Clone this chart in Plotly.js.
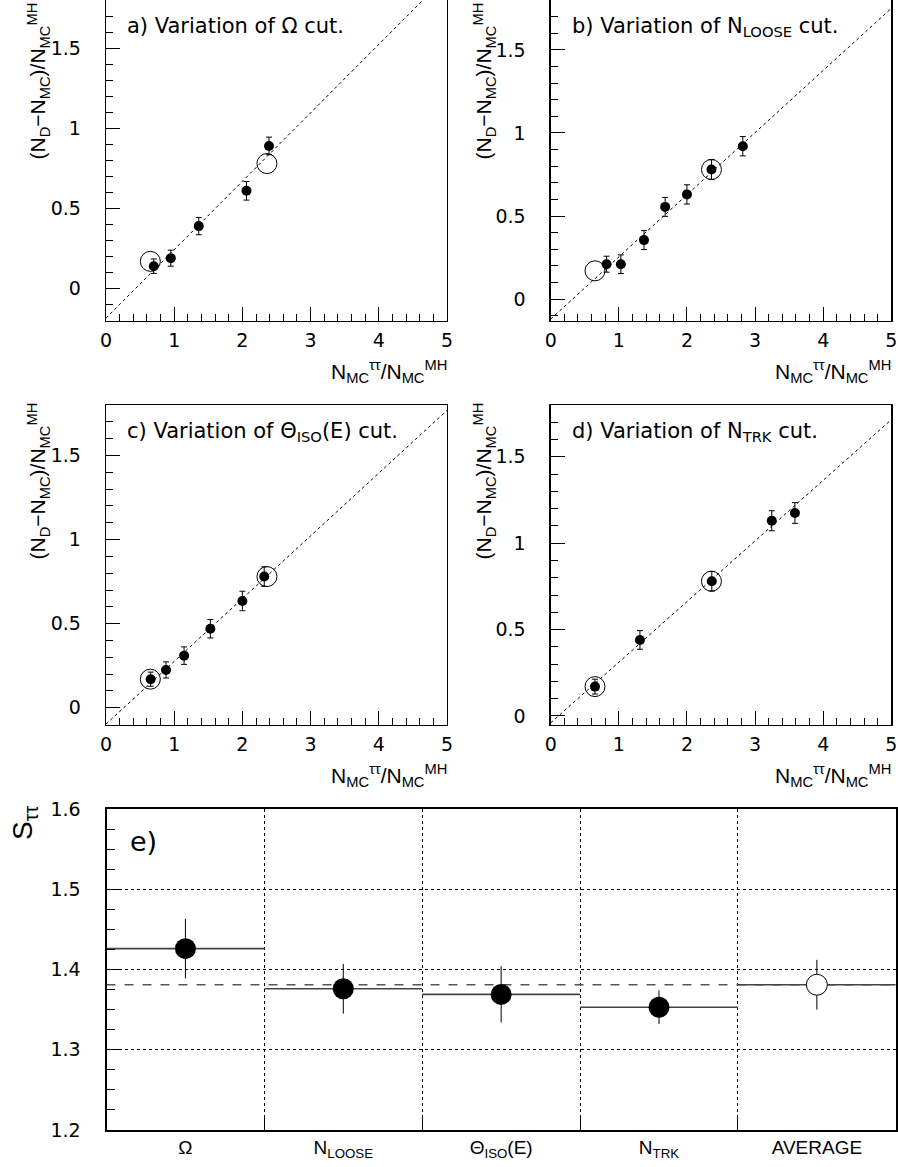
<!DOCTYPE html>
<html>
<head>
<meta charset="utf-8">
<script src="https://cdn.plot.ly/plotly-3.0.1.min.js"></script>
<style>html,body{margin:0;padding:0;background:#fff;}#plot{width:898px;height:1167px;}</style>
</head>
<body>
<div id="plot"></div>
<script>
// ---------- data ----------
// panel a) variation of Omega cut
const aX   = [0.70, 0.95, 1.36, 2.06, 2.39];
const aY   = [0.14, 0.19, 0.39, 0.61, 0.89];
const aErr = [0.045, 0.050, 0.054, 0.058, 0.055];
// panel b) variation of N_LOOSE cut
const bX   = [0.82, 1.03, 1.37, 1.68, 2.00, 2.36, 2.82];
const bY   = [0.21, 0.21, 0.355, 0.555, 0.63, 0.78, 0.92];
const bErr = [0.048, 0.056, 0.057, 0.057, 0.058, 0.060, 0.058];
// panel c) variation of Theta_ISO(E) cut
const cX   = [0.655, 0.88, 1.145, 1.53, 2.00, 2.32];
const cY   = [0.17, 0.225, 0.31, 0.47, 0.635, 0.78];
const cErr = [0.042, 0.048, 0.052, 0.055, 0.058, 0.058];
// panel d) variation of N_TRK cut
const dX   = [0.65, 1.31, 2.365, 3.245, 3.585];
const dY   = [0.17, 0.44, 0.78, 1.13, 1.175];
const dErr = [0.043, 0.054, 0.057, 0.058, 0.060];
// reference (open circle) points, same in all panels
const refX = [0.65, 2.36];
const refY = [0.17, 0.78];
// dotted reference lines (end points at x = 0 and x = 5)
const lineX  = [0, 5];
const aLineY = [-0.184, 1.95];
const bLineY = [-0.12, 1.75];
const cLineY = [-0.097, 1.768];
const dLineY = [-0.04, 1.715];
// y ranges of the four panels
const aRange = [-0.2, 1.8];
const bRange = [-0.13, 1.8];
const cRange = [-0.1, 1.8];
const dRange = [-0.05, 1.8];
// panel e) S_tautau
const eCats = ['Ω', 'N<sub>LOOSE</sub>', 'Θ<sub>ISO</sub>(E)', 'N<sub>TRK</sub>', 'AVERAGE'];
const eVals = [1.426, 1.376, 1.369, 1.353];
const eErr  = [0.037, 0.031, 0.035, 0.021];
const avgVal = 1.381;
const avgErr = 0.031;

// ---------- layout helpers ----------
const W = 898, H = 1167;
const px = v => v / W;
const py = v => 1 - v / H;
const FONT = 'Liberation Sans, Arial, Helvetica, sans-serif';
const DFONT = 'DejaVu Sans, Verdana, sans-serif';

const traces = [];
function scatterPanel(n, xs, ys, errs, lineY) {
  const xa = 'x' + (n === 1 ? '' : n), ya = 'y' + (n === 1 ? '' : n);
  traces.push({x: lineX, y: lineY, xaxis: xa, yaxis: ya, mode: 'lines',
    line: {color: '#000', width: 1, dash: 'dot'}, hoverinfo: 'skip', showlegend: false});
  traces.push({x: refX, y: refY, xaxis: xa, yaxis: ya, mode: 'markers',
    marker: {symbol: 'circle-open', size: 20, color: '#000', line: {width: 1, color: '#000'}}, showlegend: false});
  traces.push({x: xs, y: ys, xaxis: xa, yaxis: ya, mode: 'markers',
    marker: {symbol: 'circle', size: 10, color: '#000'},
    error_y: {type: 'data', array: errs, visible: true, color: '#000', thickness: 1, width: 3}, showlegend: false});
}
scatterPanel(1, aX, aY, aErr, aLineY);
scatterPanel(2, bX, bY, bErr, bLineY);
scatterPanel(3, cX, cY, cErr, cLineY);
scatterPanel(4, dX, dY, dErr, dLineY);

// panel e traces
const eIdx = eCats.map((c, i) => i);
traces.push({x: [-0.5, eCats.length - 0.5], y: [avgVal, avgVal], xaxis: 'x5', yaxis: 'y5', mode: 'lines',
  line: {color: '#555', width: 1.3, dash: 'dash'}, showlegend: false, hoverinfo: 'skip'});
eVals.concat([avgVal]).forEach((v, i) => {
  traces.push({x: [i - 0.5, i + 0.5], y: [v, v], xaxis: 'x5', yaxis: 'y5', mode: 'lines',
    line: {color: '#444', width: 1.6}, showlegend: false, hoverinfo: 'skip'});
});
traces.push({x: eIdx.slice(0, eVals.length), y: eVals, xaxis: 'x5', yaxis: 'y5', mode: 'markers',
  marker: {symbol: 'circle', size: 21, color: '#000'},
  error_y: {type: 'data', array: eErr, visible: true, color: '#000', thickness: 1, width: 0}, showlegend: false});
traces.push({x: [eVals.length], y: [avgVal], xaxis: 'x5', yaxis: 'y5', mode: 'markers',
  marker: {symbol: 'circle', size: 21, color: '#fff', line: {color: '#000', width: 1}},
  error_y: {type: 'data', array: [avgErr], visible: true, color: '#000', thickness: 1, width: 0}, showlegend: false});

function xAxis(dom, anchor) {
  return {domain: dom, anchor: anchor, range: [0, 5], tick0: 0, dtick: 1, ticks: 'inside', ticklen: 14,
    tickwidth: 1, tickcolor: '#000', showline: true, linecolor: '#000', linewidth: 1.3, mirror: true,
    showgrid: false, zeroline: false, ticklabelstandoff: 2,
    tickfont: {family: DFONT, size: 19, color: '#000'},
    minor: {dtick: 0.2, ticks: 'inside', ticklen: 7, tickwidth: 1, tickcolor: '#000'}};
}
function yAxis(dom, anchor, range) {
  return {domain: dom, anchor: anchor, range: range, tick0: 0, dtick: 0.5, ticks: 'inside', ticklen: 14,
    tickwidth: 1, tickcolor: '#000', showline: true, linecolor: '#000', linewidth: 1.3, mirror: true,
    showgrid: false, zeroline: false, ticklabelstandoff: 20,
    tickfont: {family: DFONT, size: 19, color: '#000'},
    minor: {dtick: 0.1, ticks: 'inside', ticklen: 7, tickwidth: 1, tickcolor: '#000'}};
}
const colL = [px(106), px(447)], colR = [px(550.7), px(891.3)];
const rowT = [py(320.7), py(0)], rowM = [py(724.6), py(405)];

const boundaries = eCats.slice(1).map((c, i) => i + 0.5);

const yTitle = '(N<sub>D</sub>−N<sub>MC</sub>)/N<sub>MC</sub><sup>MH</sup>';
const xTitle = 'N<sub>MC</sub><sup>ττ</sup>/N<sub>MC</sub><sup>MH</sup>';
const panelTitles = ['a) Variation of Ω cut.', 'b) Variation of N<sub>LOOSE</sub> cut.',
  'c) Variation of Θ<sub>ISO</sub>(E) cut.', 'd) Variation of N<sub>TRK</sub> cut.'];

const annotations = [];
const panelPos = [
  {l: 106, r: 447, top: 0, bot: 320.7, ytx: 38, yt: 1},
  {l: 550.7, r: 891.3, top: 0, bot: 320.7, ytx: 484, yt: 1},
  {l: 106, r: 447, top: 405, bot: 724.6, ytx: 38, yt: 401},
  {l: 550.7, r: 891.3, top: 405, bot: 725, ytx: 484, yt: 401}
];
panelPos.forEach((p, i) => {
  annotations.push({xref: 'paper', yref: 'paper', x: px(p.l + 19), y: py(p.top + 12), xanchor: 'left', yanchor: 'top',
    text: panelTitles[i], showarrow: false, font: {family: DFONT, size: 21, color: '#000'}});
  annotations.push({xref: 'paper', yref: 'paper', x: px(p.ytx), y: py(p.yt), xanchor: 'center', yanchor: 'top',
    text: yTitle, textangle: -90, showarrow: false, font: {family: FONT, size: 21, color: '#000'}});
  annotations.push({xref: 'paper', yref: 'paper', x: px(p.r + 2), y: py(p.bot + 34), xanchor: 'right', yanchor: 'top',
    text: xTitle, showarrow: false, font: {family: FONT, size: 21, color: '#000'}});
});
annotations.push({xref: 'paper', yref: 'paper', x: px(128), y: py(824), xanchor: 'left', yanchor: 'top',
  text: 'e)', showarrow: false, font: {family: DFONT, size: 27, color: '#000'}});
annotations.push({xref: 'paper', yref: 'paper', x: px(24), y: py(804), xanchor: 'center', yanchor: 'top',
  text: 'S<sub>ττ</sub>', textangle: -90, showarrow: false, font: {family: FONT, size: 28, color: '#000'}});

const layout = {
  width: W, height: H, margin: {l: 0, r: 0, t: 0, b: 0, pad: 0},
  paper_bgcolor: '#fff', plot_bgcolor: '#fff', showlegend: false,
  xaxis: xAxis(colL, 'y'), yaxis: yAxis(rowT, 'x', aRange),
  xaxis2: xAxis(colR, 'y2'), yaxis2: yAxis(rowT, 'x2', bRange),
  xaxis3: xAxis(colL, 'y3'), yaxis3: yAxis(rowM, 'x3', cRange),
  xaxis4: xAxis(colR, 'y4'), yaxis4: yAxis(rowM, 'x4', dRange),
  xaxis5: {domain: [px(106.5), px(895.8)], anchor: 'y5', range: [-0.5, eCats.length - 0.5],
    tickmode: 'array', tickvals: eIdx, ticktext: eCats, ticks: '', showgrid: false, zeroline: false,
    showline: true, linecolor: '#000', linewidth: 1.6, mirror: true, ticklabelstandoff: 0,
    tickfont: {family: FONT, size: 19, color: '#000'},
    minor: {tickmode: 'array', tickvals: boundaries, ticks: 'inside', ticklen: 13, tickwidth: 1, tickcolor: '#000',
      showgrid: true, gridcolor: '#000', gridwidth: 1, griddash: 'dot'}},
  yaxis5: {domain: [py(1130), py(809)], anchor: 'x5', range: [1.2, 1.6], tick0: 1.2, dtick: 0.1, tickformat: '.1f',
    ticks: 'inside', ticklen: 14, tickwidth: 1, tickcolor: '#000', showgrid: true, gridcolor: '#000', gridwidth: 1,
    griddash: 'dot', zeroline: false, showline: true, linecolor: '#000', linewidth: 2, mirror: true,
    ticklabelstandoff: 20, tickfont: {family: DFONT, size: 19, color: '#000'},
    minor: {dtick: 0.025, ticks: 'inside', ticklen: 8, tickwidth: 1, tickcolor: '#000'}},
  annotations: annotations
};
Plotly.newPlot('plot', traces, layout, {staticPlot: true, displayModeBar: false});
</script>
</body>
</html>
